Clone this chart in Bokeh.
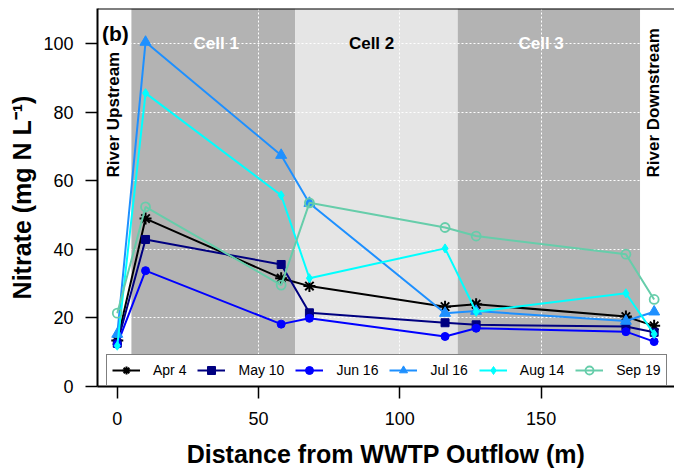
from bokeh.plotting import figure
from bokeh.models import Range1d, Label, Span, Legend, LegendItem, FixedTicker
from bokeh.embed import file_html
from bokeh.resources import INLINE

# ---- data ----
distance = [0, 10, 58, 68, 116, 127, 180, 190]
series_names = ["Apr 4", "May 10", "Jun 16", "Jul 16", "Aug 14", "Sep 19"]
apr4 = [13.4, 49.0, 31.6, 29.3, 23.3, 24.0, 20.4, 17.7]
may10 = [12.6, 42.9, 35.6, 21.5, 18.6, 18.0, 17.5, 15.8]
jun16 = [12.3, 33.8, 18.2, 19.9, 14.6, 17.0, 16.0, 13.1]
jul16 = [15.3, 100.5, 67.5, 53.5, 21.4, 22.0, 19.1, 21.8]
aug14 = [11.9, 85.6, 55.8, 31.6, 40.3, 21.8, 27.2, 15.3]
sep19 = [21.4, 52.4, 29.6, 53.6, 46.4, 43.9, 38.6, 25.4]

cell_labels = ["Cell 1", "Cell 2", "Cell 3"]
cell_starts = [5, 63, 120.5]
cell_ends = [63, 120.5, 185]
x_ticks = [0, 50, 100, 150]
y_ticks = [0, 20, 40, 60, 80, 100]

# ---- styles ----
colors = ["black", "#000080", "#0000FF", "#1E90FF", "#00FFFF", "#66CDAA"]
markers = ["asterisk", "square", "circle", "triangle", "diamond", "circle"]
msizes = [12, 8, 8, 11, 9, 9]
fills = [True, True, True, True, True, False]
cell_fill = ["#b3b3b3", "#e5e5e5", "#b3b3b3"]
cell_text_color = ["white", "black", "white"]
cell_text_x = [35, 90, 150]
FONT = "Liberation Sans"
YMAX = 110.3

p = figure(width=674, height=472, output_backend="svg", toolbar_location=None,
           x_range=Range1d(-7.0, 197.2), y_range=Range1d(0, YMAX),
           min_border_left=97, min_border_right=0, min_border_top=8,
           min_border_bottom=86)
p.outline_line_color = None
p.background_fill_color = "white"
p.border_fill_color = "white"

p.quad(left=cell_starts, right=cell_ends, bottom=0, top=YMAX,
       fill_color=cell_fill, line_color=None, level="image")

# grid
p.xgrid.ticker = FixedTicker(ticks=[50, 100, 150])
p.ygrid.ticker = FixedTicker(ticks=[20, 40, 60, 80, 100])
for g in (p.xgrid, p.ygrid):
    g.grid_line_color = "white"
    g.grid_line_dash = "2 2"
    g.grid_line_width = 1

# axes
p.xaxis.ticker = FixedTicker(ticks=x_ticks)
p.yaxis.ticker = FixedTicker(ticks=y_ticks)
for ax in (p.xaxis, p.yaxis):
    ax.minor_tick_line_color = None
    ax.major_tick_in = 0
    ax.major_tick_out = 12
    ax.major_tick_line_width = 1.5
    ax.axis_line_width = 2
    ax.axis_line_color = "black"
    ax.major_label_text_font = FONT
    ax.major_label_text_font_size = "18px"
    ax.major_label_text_color = "black"
    ax.axis_label_text_font = FONT
    ax.axis_label_text_font_style = "bold"
    ax.axis_label_text_font_size = "25px"
    ax.axis_label_text_color = "black"
p.xaxis.axis_label = "Distance from WWTP Outflow (m)"
p.yaxis.axis_label = "Nitrate (mg N L\u207b\u00b9)"
p.xaxis.major_label_standoff = 13
p.xaxis.axis_label_standoff = 12
p.yaxis.major_label_standoff = 12
p.yaxis.axis_label_standoff = 4

p.add_layout(Span(location=YMAX, dimension="width", line_color="black", line_width=2))

# series
all_series = [apr4, may10, jun16, jul16, aug14, sep19]
items = []
for name, vals, c, m, s, f in zip(series_names, all_series, colors, markers, msizes, fills):
    lr = p.line(distance, vals, line_color=c, line_width=2)
    if f:
        mr = p.scatter(distance, vals, marker=m, size=s, line_color=c,
                       fill_color=c, line_width=2 if m == "asterisk" else 1)
    else:
        mr = p.scatter(distance, vals, marker=m, size=s, line_color=c,
                       fill_color="white", fill_alpha=0, line_width=1.8)
    items.append(LegendItem(label=name, renderers=[lr, mr]))

legend = Legend(items=items, orientation="horizontal", location=(9, 0),
                glyph_width=28, glyph_height=20, label_standoff=13, spacing=11,
                padding=5, margin=0,
                label_text_font=FONT, label_text_font_size="14px",
                label_text_color="black",
                border_line_color="black", border_line_width=1.5,
                background_fill_color="white", background_fill_alpha=1)
p.add_layout(legend, "center")

# annotations
for lab, xc, tc in zip(cell_labels, cell_text_x, cell_text_color):
    p.add_layout(Label(x=xc, y=100, text=lab, text_align="center",
                       text_baseline="middle", text_color=tc,
                       text_font=FONT, text_font_style="bold",
                       text_font_size="17px"))
p.add_layout(Label(x=-5.4, y=103, text="(b)", text_align="left",
                   text_baseline="middle", text_font=FONT, text_color="black",
                   text_font_style="bold", text_font_size="21px"))
p.add_layout(Label(x=-1.2, y=61, text="River Upstream", angle=90,
                   angle_units="deg", text_align="left", text_baseline="middle",
                   text_font=FONT, text_font_style="bold", text_color="black",
                   text_font_size="17px"))
p.add_layout(Label(x=189.9, y=61, text="River Downstream", angle=90,
                   angle_units="deg", text_align="left", text_baseline="middle",
                   text_font=FONT, text_font_style="bold", text_color="black",
                   text_font_size="17px"))

open("out.html", "w").write(file_html(p, INLINE))
